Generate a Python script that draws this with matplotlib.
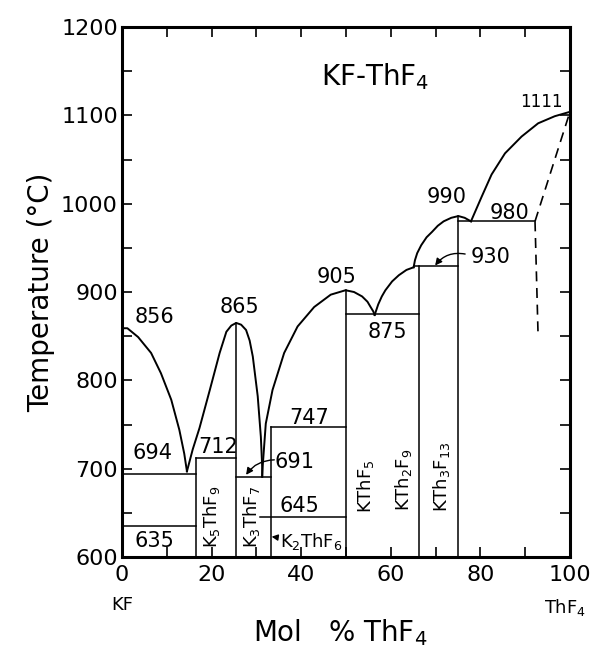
import matplotlib.pyplot as plt
from matplotlib.ticker import MultipleLocator

# liquidus branches (mol % ThF4, temperature C)
kf_x = [0, 1.2, 3.6, 6.5, 8.7, 11.0, 12.8, 13.9, 14.5]
kf_t = [859, 859, 849, 831, 808, 778, 744, 717, 697]

k3_x = [14.5, 15.8, 17.3, 19.6, 21.8, 23.3, 24.4, 25.5, 26.6, 27.7, 28.5,
        29.2, 30.3, 31.0, 31.3, 31.3]
k3_t = [697, 722, 746, 789, 831, 855, 862, 865, 863, 857, 845,
        827, 782, 736, 702, 691]

kthf5_x = [31.3, 31.4, 32.1, 33.6, 36.2, 39.2, 42.9, 46.6, 49.9, 51.8,
           53.6, 54.8, 55.5, 56.1, 56.4]
kthf5_t = [691, 702, 751, 789, 831, 861, 883, 897, 902, 900,
           895, 889, 883, 878, 874]

kth2_x = [56.4, 57.2, 58.0, 58.8, 60.3, 61.8, 63.5, 65.1]
kth2_t = [874, 886, 895, 902, 912, 919, 925, 928]

kth3_x = [65.1, 65.4, 65.9, 66.8, 68.0, 69.2, 70.5, 71.8, 73.5, 75.1, 76.5, 77.9]
kth3_t = [928, 936, 944, 953, 962, 968, 975, 980, 984, 986, 984, 980]

thf4_x = [77.9, 80.3, 82.5, 85.5, 89.2, 92.9, 96.6, 100]
thf4_t = [980, 1008, 1033, 1057, 1076, 1091, 1099, 1104]

# dashed (uncertain) boundaries
dash_up_x = [92.2, 100]
dash_up_t = [980, 1104]
dash_dn_x = [92.2, 92.9]
dash_dn_t = [980, 848]

# horizontal invariant lines: (temperature, x start, x end)
iso_t = [694, 635, 712, 691, 747, 645, 875, 930, 980]
iso_x0 = [0, 0, 16.6, 25.4, 33.3, 30.7, 50.1, 65.1, 74.9]
iso_x1 = [16.6, 16.6, 25.4, 33.3, 50.1, 50.1, 66.2, 74.9, 92.2]

# compound composition lines: (x, top temperature)
cmp_x = [16.6, 25.4, 33.3, 50.1, 66.2, 74.9]
cmp_top = [712, 865, 747, 902, 929, 986]

fig = plt.figure(figsize=(5.91, 6.54), dpi=100)
ax = fig.add_axes([0.2064, 0.1483, 0.758, 0.8104])

lw = 1.4
for xs, ts in [(kf_x, kf_t), (k3_x, k3_t), (kthf5_x, kthf5_t),
               (kth2_x, kth2_t), (kth3_x, kth3_t), (thf4_x, thf4_t)]:
    ax.plot(xs, ts, color='black', lw=lw, solid_joinstyle='round')

ax.plot(dash_up_x, dash_up_t, color='black', lw=1.2, ls=(0, (6, 4)))
ax.plot(dash_dn_x, dash_dn_t, color='black', lw=1.2, ls=(0, (6, 4)))

for t, x0, x1 in zip(iso_t, iso_x0, iso_x1):
    ax.plot([x0, x1], [t, t], color='black', lw=1.1)

for x, top in zip(cmp_x, cmp_top):
    ax.plot([x, x], [600, top], color='black', lw=1.1)

num = dict(fontsize=15, ha='center', va='center')
ax.text(7.3, 872, '856', **num)
ax.text(26.2, 883, '865', **num)
ax.text(6.9, 718, '694', **num)
ax.text(21.4, 725, '712', **num)
ax.text(7.3, 618, '635', **num)
ax.text(38.4, 708, '691', **num)
ax.text(41.8, 757, '747', **num)
ax.text(39.6, 658, '645', **num)
ax.text(47.8, 917, '905', **num)
ax.text(59.2, 855, '875', **num)
ax.text(72.5, 1007, '990', **num)
ax.text(82.2, 940, '930', **num)
ax.text(86.6, 989, '980', **num)
ax.text(93.6, 1115, '1111', fontsize=12, ha='center', va='center')

ax.text(56.4, 1144, r'KF-ThF$_4$', fontsize=20, ha='center', va='center')

rot = dict(fontsize=13, ha='center', va='center', rotation=90)
ax.text(19.9, 646, r'K$_5$ThF$_9$', **rot)
ax.text(28.8, 646, r'K$_3$ThF$_7$', **rot)
ax.text(54.4, 680, r'KThF$_5$', **rot)
ax.text(62.9, 687, r'KTh$_2$F$_9$', **rot)
ax.text(71.4, 691, r'KTh$_3$F$_{13}$', **rot)

ax.annotate(r'K$_2$ThF$_6$', xy=(33.4, 623), xytext=(35.3, 617),
            fontsize=13, ha='left', va='center',
            arrowprops=dict(arrowstyle='-|>', color='black', lw=1,
                            shrinkA=0, shrinkB=0, mutation_scale=9))
ax.annotate('', xy=(27.7, 693), xytext=(34.0, 710),
            arrowprops=dict(arrowstyle='-|>', color='black', lw=1,
                            shrinkA=0, shrinkB=0, mutation_scale=10,
                            connectionstyle='arc3,rad=0.25'))
ax.annotate('', xy=(69.9, 930), xytext=(76.6, 943),
            arrowprops=dict(arrowstyle='-|>', color='black', lw=1,
                            shrinkA=0, shrinkB=0, mutation_scale=10,
                            connectionstyle='arc3,rad=0.3'))

ax.set_xlim(0, 100)
ax.set_ylim(600, 1200)
ax.xaxis.set_major_locator(MultipleLocator(20))
ax.xaxis.set_minor_locator(MultipleLocator(10))
ax.yaxis.set_major_locator(MultipleLocator(100))
ax.yaxis.set_minor_locator(MultipleLocator(50))
ax.tick_params(which='both', direction='in', top=True, right=True,
               width=1.2, length=7, labelsize=16)
ax.tick_params(axis='x', pad=6)
ax.tick_params(axis='y', pad=3)
for s in ax.spines.values():
    s.set_linewidth(2.2)

ax.set_ylabel('Temperature (°C)', fontsize=20, labelpad=4)
fig.text(0.575, 0.033, r'Mol   % ThF$_4$', fontsize=20, ha='center', va='center')
fig.text(122 / 591, 1 - 605 / 654, 'KF', fontsize=13, ha='center', va='center')
fig.text(565 / 591, 1 - 607 / 654, r'ThF$_4$', fontsize=13, ha='center', va='center')

fig.savefig('out.png', dpi=100)
